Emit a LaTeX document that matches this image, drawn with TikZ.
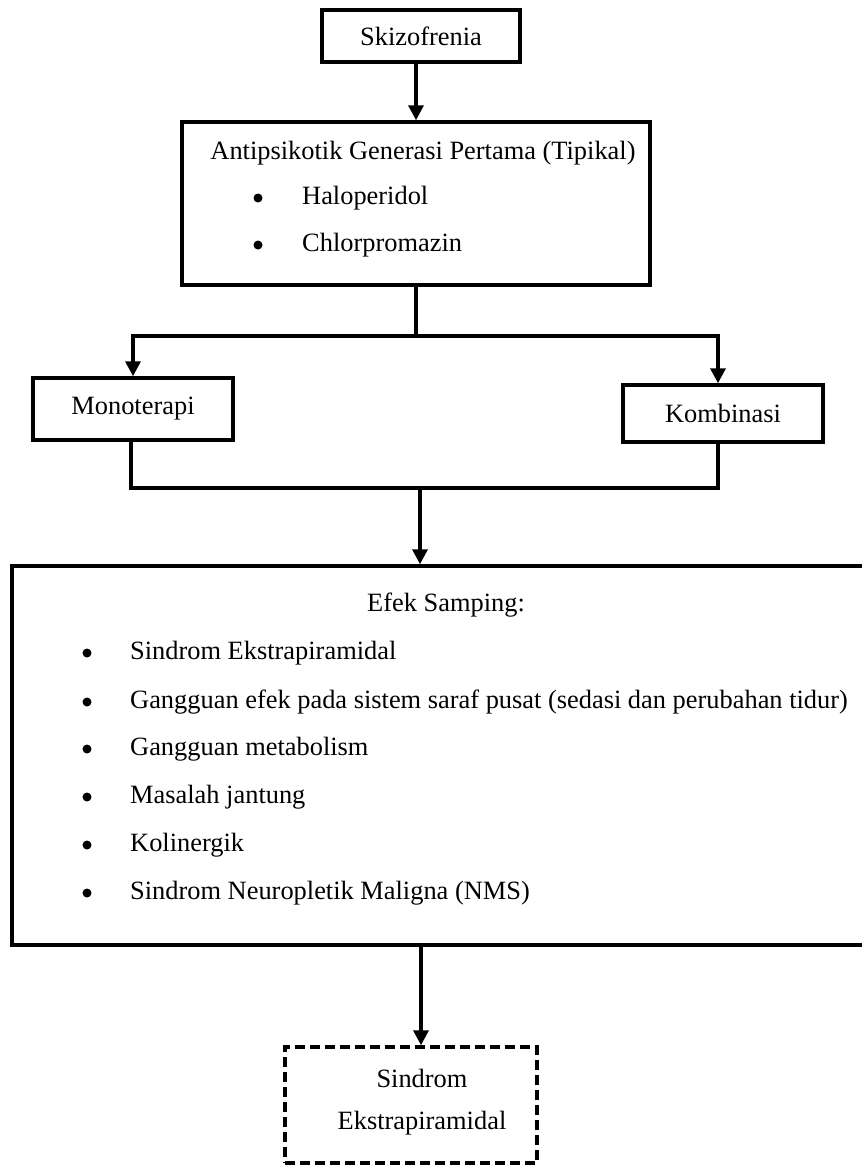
\documentclass[tikz,border=0pt]{standalone}
\usepackage{fontspec}
\setmainfont{Liberation Serif}
\usetikzlibrary{arrows.meta,calc}
\begin{document}
\begin{tikzpicture}[x=1pt,y=-1pt,
  box/.style={draw,line width=3.5pt,rectangle,inner sep=0pt},
  dbox/.style={draw,line width=3.5pt,rectangle,inner sep=0pt,dash pattern=on 10pt off 5pt},
  txt/.style={inner sep=0pt,font=\fontsize{26.4}{30}\selectfont},
  ltxt/.style={txt,anchor=west},
  dot/.style={circle,fill,inner sep=0pt,minimum size=9pt},
  conn/.style={line width=3.5pt},
  arr/.style={line width=3.5pt,-{Triangle[width=15pt,length=15pt]}}]
\useasboundingbox (0,0) rectangle (862,1165);
\clip (0,0) rectangle (862,1165);
% boxes
\node[box,minimum width=198pt,minimum height=52pt] (sk) at (421,36) {};
\node[txt] (skt) at (421,36) {Skizofrenia};
\node[box,minimum width=468pt,minimum height=163pt] (ap) at (416,203.5) {};
\node[txt] (apt) at (423,153) {Antipsikotik Generasi Pertama (Tipikal)};
\node[dot] (b1) at (258,198) {};
\node[ltxt] (i1) at (302,198) {Haloperidol};
\node[dot] (b2) at (258,245) {};
\node[ltxt] (i2) at (302,245) {Chlorpromazin};
\node[box,minimum width=200pt,minimum height=62pt] (mono) at (133,409) {};
\node[txt] (monot) at (133,409) {Monoterapi};
\node[box,minimum width=200pt,minimum height=57pt] (komb) at (723,413.5) {};
\node[txt] (kombt) at (723,413) {Kombinasi};
\node[box,minimum width=880pt,minimum height=379pt] (efek) at (452,755.5) {};
\node[txt] (eft) at (446,605) {Efek Samping:};
\foreach \y/\t [count=\i] in {653/Sindrom Ekstrapiramidal,
  702/Gangguan efek pada sistem saraf pusat (sedasi dan perubahan tidur),
  749/Gangguan metabolism,
  797/Masalah jantung,
  845/Kolinergik,
  893/Sindrom Neuropletik Maligna (NMS)}{
  \node[dot] (e\i) at (87,\y) {};
  \node[ltxt] (et\i) at (130,\y) {\t};
}
\node[dbox,minimum width=252pt,minimum height=116pt] (se) at (411,1105) {};
\node[txt] (se1) at (422,1078) {Sindrom};
\node[txt] (se2) at (422,1123) {Ekstrapiramidal};
% connectors
\coordinate (j1) at (416,336);
\coordinate (j2) at (420,488);
\draw[arr] (ap.north |- sk.south) -- (ap.north);
\draw[conn] (ap.south) -- (j1);
\draw[arr] (j1) -| (mono.north);
\draw[arr] (j1) -| ([xshift=-5pt]komb.north);
\draw[conn] ([xshift=-2pt]mono.south) |- (j2) -| ([xshift=-5pt]komb.south);
\draw[arr] (j2) -- (j2 |- efek.north);
\draw[arr] ([xshift=10pt]se.north |- efek.south) -- ([xshift=10pt]se.north);
\end{tikzpicture}
\end{document}
